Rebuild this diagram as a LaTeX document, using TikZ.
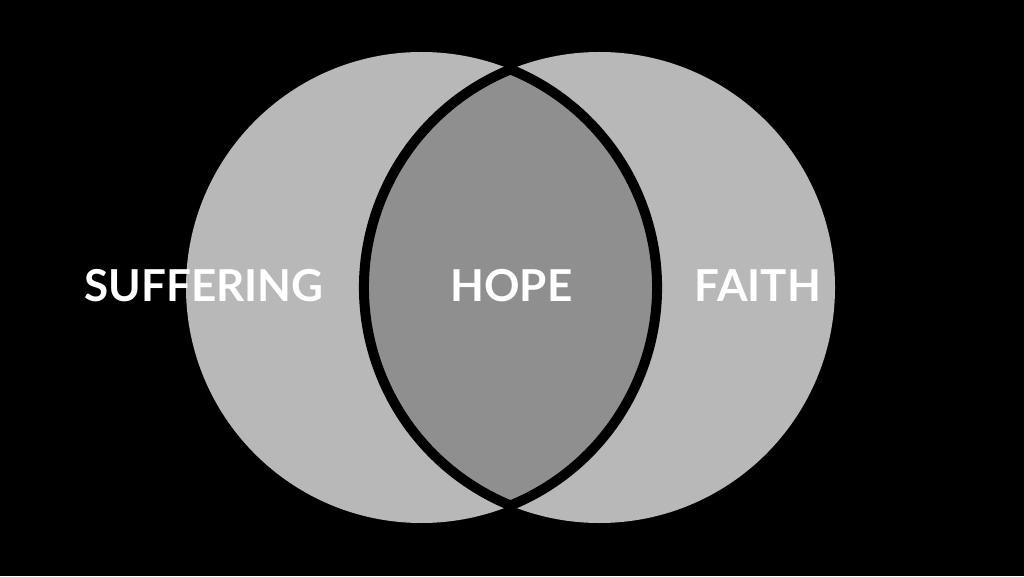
\documentclass[tikz,border=0pt]{standalone}
\usepackage{fontspec}
\setmainfont{Lato}

\definecolor{ringgray}{HTML}{B8B8B8}
\definecolor{lensgray}{HTML}{8F8F8F}

\begin{document}
\begin{tikzpicture}[x=1pt,y=1pt,font=\fontsize{44}{44}\selectfont\bfseries]
    \fill[black] (0,0) rectangle (1024,576);
    \useasboundingbox (0,0) rectangle (1024,576);
    \foreach \side/\position in {left/421.5, right/599.5} {
        \node[circle,fill=ringgray,inner sep=0pt,minimum size=471pt] (\side) at (\position,288.5) {};
    }
    \filldraw[fill=lensgray,draw=black,line width=10pt,line join=round]
        (510.5,506.6) arc[start angle=112.2,end angle=247.8,radius=235.5]
        arc[start angle=-67.8,end angle=67.8,radius=235.5] -- cycle;
    \foreach \word/\position in {SUFFERING/204, HOPE/511.5, FAITH/758} {
        \node[text=white,anchor=base,inner sep=0pt] (\word) at (\position,274) {\word};
    }
\end{tikzpicture}
\end{document}
